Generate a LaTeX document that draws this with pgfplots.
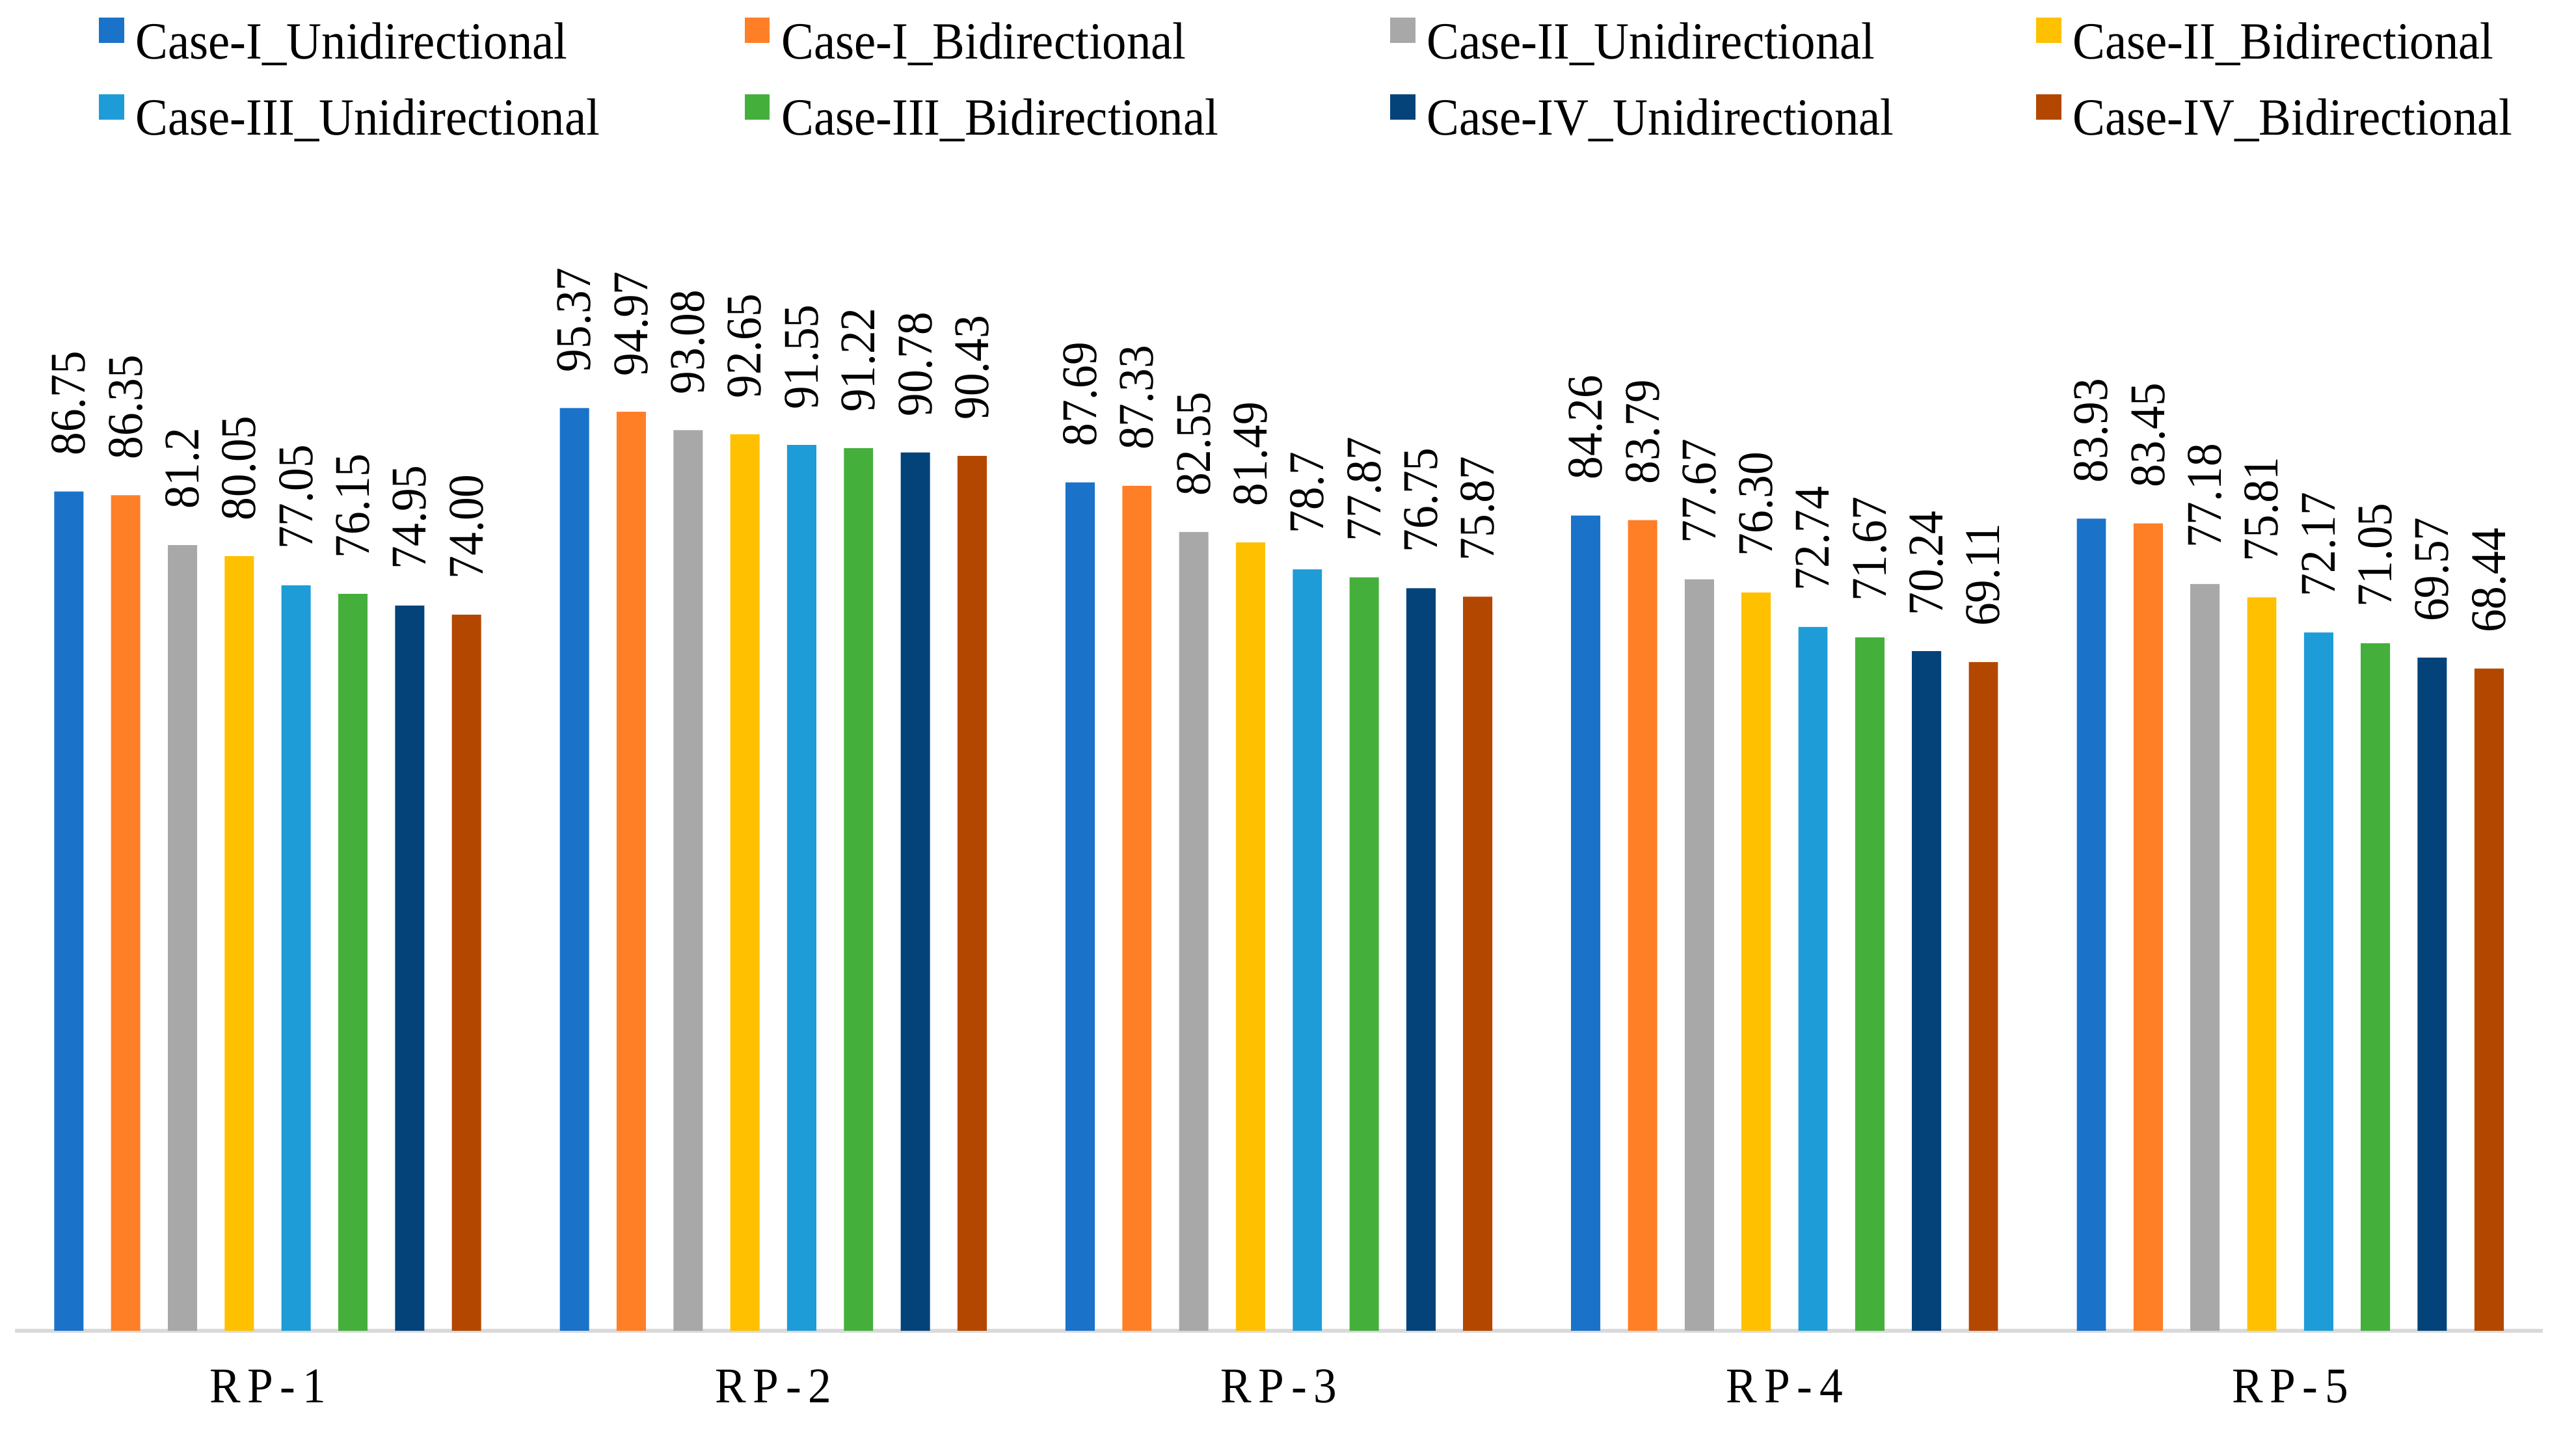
\documentclass[border=0pt]{standalone}
\usepackage{fontspec}
\setmainfont{Liberation Serif}
\newfontfamily\condfont[FakeStretch=0.93]{Liberation Serif}
\usepackage{pgfplots}
\pgfplotsset{compat=1.18}
\usetikzlibrary{calc}

\definecolor{cIu}{HTML}{1A73C8}
\definecolor{cIb}{HTML}{FF7F27}
\definecolor{cIIu}{HTML}{A8A8A8}
\definecolor{cIIb}{HTML}{FFC000}
\definecolor{cIIIu}{HTML}{1E9CD8}
\definecolor{cIIIb}{HTML}{45AF3B}
\definecolor{cIVu}{HTML}{03437A}
\definecolor{cIVb}{HTML}{B34700}
\definecolor{axisgray}{HTML}{D9D9D9}

\newcommand{\lgfont}{\condfont\fontsize{9}{11}\selectfont}
\newcommand{\numfont}{\condfont\fontsize{8.6}{10}\selectfont}
\newcommand{\rp}[1]{R\hspace{1.2pt}P\hspace{1.2pt}-\hspace{1.2pt}#1}

\pgfplotsset{
  sqlegend/.style={legend image code/.code={\fill[##1] (0cm,0.025cm) rectangle (0.153cm,0.178cm);}},
}

\begin{document}
\begin{tikzpicture}
\begin{axis}[
    scale only axis,
    width=15.31cm, height=7.032cm,
    ymin=0, ymax=120,
    xmin=-0.5, xmax=4.5,
    ybar=0.167cm, bar width=0.177cm,
    every axis plot/.append style={sqlegend},
    axis x line*=bottom,
    axis y line=none,
    x axis line style={draw=axisgray, line width=0.75pt, -},
    xtick={0,1,2,3,4},
    xticklabels={\rp{1},\rp{2},\rp{3},\rp{4},\rp{5}},
    major tick length=0pt,
    xticklabel style={font=\numfont, anchor=north, inner sep=0pt, yshift=-0.23cm},
    nodes near coords={\numfont\pgfplotspointmeta},
    point meta=explicit symbolic,
    nodes near coords style={font=\numfont, rotate=90, anchor=west, inner xsep=0.21cm, inner ysep=0pt, text=black},
    legend columns=4,
    legend style={draw=none, fill=none, inner sep=0pt, outer sep=0pt,
        at={(0.03325,1.1309)}, anchor=north west, font=\lgfont, row sep=0.155cm,
        nodes={inner sep=0pt, text width=3.687cm, align=left, text height=5.7pt, text depth=1.7pt},
        /tikz/every odd column/.style={column sep=0.07cm},
        /tikz/every even column/.style={column sep=0pt}},
    clip=false,
]
\addplot[fill=cIu, draw=none] coordinates {(0,86.75)[86.75] (1,95.37)[95.37] (2,87.69)[87.69] (3,84.26)[84.26] (4,83.93)[83.93]};
\addlegendentry{Case-I\_Unidirectional}
\addplot[fill=cIb, draw=none] coordinates {(0,86.35)[86.35] (1,94.97)[94.97] (2,87.33)[87.33] (3,83.79)[83.79] (4,83.45)[83.45]};
\addlegendentry{Case-I\_Bidirectional}
\addplot[fill=cIIu, draw=none] coordinates {(0,81.2)[81.2] (1,93.08)[93.08] (2,82.55)[82.55] (3,77.67)[77.67] (4,77.18)[77.18]};
\addlegendentry{Case-II\_Unidirectional}
\addplot[fill=cIIb, draw=none] coordinates {(0,80.05)[80.05] (1,92.65)[92.65] (2,81.49)[81.49] (3,76.30)[76.30] (4,75.81)[75.81]};
\addlegendentry{Case-II\_Bidirectional}
\addplot[fill=cIIIu, draw=none] coordinates {(0,77.05)[77.05] (1,91.55)[91.55] (2,78.7)[78.7] (3,72.74)[72.74] (4,72.17)[72.17]};
\addlegendentry{Case-III\_Unidirectional}
\addplot[fill=cIIIb, draw=none] coordinates {(0,76.15)[76.15] (1,91.22)[91.22] (2,77.87)[77.87] (3,71.67)[71.67] (4,71.05)[71.05]};
\addlegendentry{Case-III\_Bidirectional}
\addplot[fill=cIVu, draw=none] coordinates {(0,74.95)[74.95] (1,90.78)[90.78] (2,76.75)[76.75] (3,70.24)[70.24] (4,69.57)[69.57]};
\addlegendentry{Case-IV\_Unidirectional}
\addplot[fill=cIVb, draw=none] coordinates {(0,74.00)[74.00] (1,90.43)[90.43] (2,75.87)[75.87] (3,69.11)[69.11] (4,68.44)[68.44]};
\addlegendentry{Case-IV\_Bidirectional}
\coordinate (bl) at (rel axis cs:0,0);
\coordinate (tr) at (rel axis cs:1,1);
\end{axis}
\pgfresetboundingbox
\path[use as bounding box] ($(bl)+(-0.09cm,-0.67cm)$) rectangle ($(tr)+(0.20cm,1.028cm)$);
\end{tikzpicture}
\end{document}
